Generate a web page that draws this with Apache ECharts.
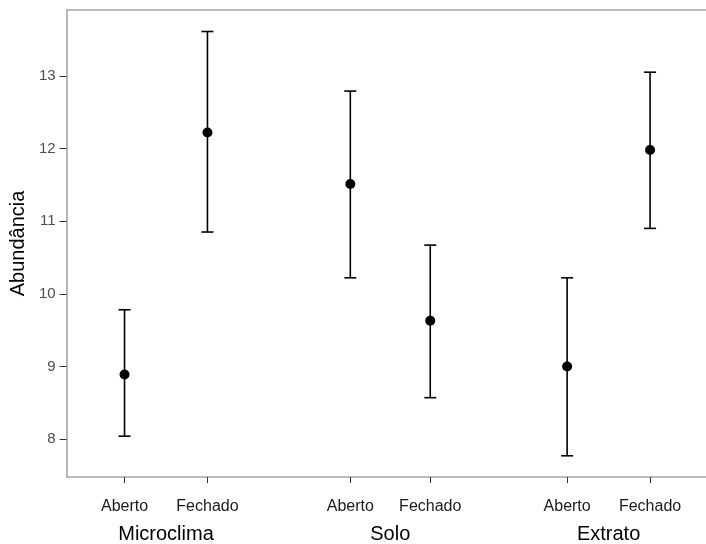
<!DOCTYPE html>
<html>
<head>
<meta charset="utf-8">
<script src="https://cdn.jsdelivr.net/npm/echarts@6/dist/echarts.min.js"></script>
<style>
html,body{margin:0;padding:0;background:#fff;}
#chart{width:706px;height:544px;}
</style>
</head>
<body>
<div id="chart"></div>
<script>
// Data
const groups = ['Microclima', 'Solo', 'Extrato'];
const levels = ['Aberto', 'Fechado', 'Aberto', 'Fechado', 'Aberto', 'Fechado'];
const xPos = [58, 141, 284, 364, 501, 584];          // category positions along the x axis
const means = [8.89, 12.22, 11.51, 9.63, 9.00, 11.98];
const upper = [9.78, 13.61, 12.79, 10.67, 10.22, 13.05];
const lower = [8.04, 10.85, 10.22, 8.57, 7.77, 10.90];
const yTicks = [8, 9, 10, 11, 12, 13];

const groupPos = groups.map((g, i) => (xPos[2 * i] + xPos[2 * i + 1]) / 2);
const labelByPos = {};
xPos.forEach((p, i) => { labelByPos[p] = levels[i]; });
const groupByPos = {};
groupPos.forEach((p, i) => { groupByPos[p] = groups[i]; });

const X_MIN = 0, X_MAX = 640;
const Y_MIN = 7.478, Y_MAX = 13.906;
const FONT = 'Liberation Sans, Arial, sans-serif';
const AXIS_COLOR = '#a6a6a6';

const chart = echarts.init(document.getElementById('chart'));
chart.setOption({
  animation: false,
  backgroundColor: '#fff',
  grid: { left: 66, right: 0, top: 10, bottom: 66, containLabel: false },
  xAxis: [
    {
      type: 'value', min: X_MIN, max: X_MAX, position: 'bottom',
      axisLine: { show: true, onZero: false, lineStyle: { color: AXIS_COLOR, width: 1.6 } },
      axisTick: { show: true, length: 6, customValues: xPos, lineStyle: { color: '#333', width: 1 } },
      axisLabel: {
        show: true, customValues: xPos, margin: 22,
        formatter: v => labelByPos[v] || '',
        color: '#1a1a1a', fontSize: 16, fontFamily: FONT
      },
      splitLine: { show: false }
    },
    {
      type: 'value', min: X_MIN, max: X_MAX, position: 'bottom',
      axisLine: { show: false }, axisTick: { show: false },
      axisLabel: {
        show: true, customValues: groupPos, margin: 47,
        formatter: v => groupByPos[v] || '',
        color: '#000', fontSize: 20, fontFamily: FONT
      },
      splitLine: { show: false }
    },
    {
      type: 'value', min: X_MIN, max: X_MAX, position: 'top',
      axisLine: { show: true, onZero: false, lineStyle: { color: AXIS_COLOR, width: 1.6 } },
      axisTick: { show: false }, axisLabel: { show: false }, splitLine: { show: false }
    }
  ],
  yAxis: {
    type: 'value', min: Y_MIN, max: Y_MAX,
    name: 'Abundância', nameLocation: 'middle', nameGap: 38,
    nameTextStyle: { color: '#000', fontSize: 20, fontFamily: FONT },
    axisLine: { show: true, onZero: false, lineStyle: { color: AXIS_COLOR, width: 1.6 } },
    axisTick: { show: true, length: 7, customValues: yTicks, lineStyle: { color: '#333', width: 1 } },
    axisLabel: {
      show: true, customValues: yTicks, margin: 11,
      color: '#4d4d4d', fontSize: 15, fontFamily: FONT
    },
    splitLine: { show: false }
  },
  series: [
    {
      type: 'custom',
      xAxisIndex: 0,
      data: xPos.map((x, i) => [x, upper[i], lower[i]]),
      renderItem: function (params, api) {
        const hi = api.coord([api.value(0), api.value(1)]);
        const lo = api.coord([api.value(0), api.value(2)]);
        const cap = 6;
        const style = { stroke: '#000', lineWidth: 1.6 };
        return {
          type: 'group',
          children: [
            { type: 'line', shape: { x1: hi[0], y1: hi[1], x2: lo[0], y2: lo[1] }, style: style },
            { type: 'line', shape: { x1: hi[0] - cap, y1: hi[1], x2: hi[0] + cap, y2: hi[1] }, style: style },
            { type: 'line', shape: { x1: lo[0] - cap, y1: lo[1], x2: lo[0] + cap, y2: lo[1] }, style: style }
          ]
        };
      },
      z: 2
    },
    {
      type: 'scatter',
      xAxisIndex: 0,
      data: xPos.map((x, i) => [x, means[i]]),
      symbol: 'circle', symbolSize: 10,
      itemStyle: { color: '#000', opacity: 1 },
      z: 3
    }
  ]
});
</script>
</body>
</html>
